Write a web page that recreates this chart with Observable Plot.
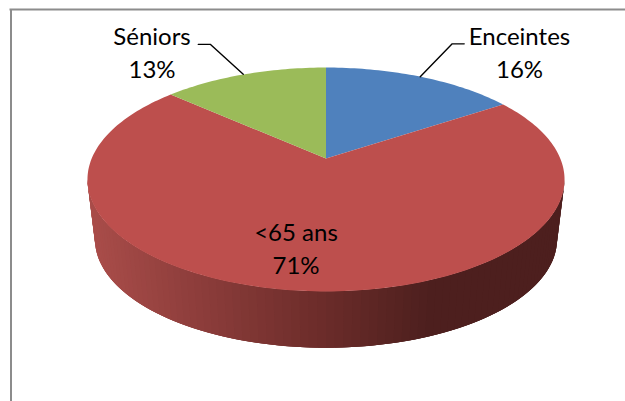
<!DOCTYPE html>
<html>
<head>
<meta charset="utf-8">
<style>html,body{margin:0;padding:0;background:#fff}svg{display:block}</style>
<script src="https://cdn.jsdelivr.net/npm/d3@7"></script>
<script src="https://cdn.jsdelivr.net/npm/@observablehq/plot@0.6"></script>
</head>
<body>
<script>
const categories = ["Enceintes", "<65 ans", "Séniors"];
// the printed labels are these, rounded
const shares = [15.7, 70.9, 13.4];
const sliceColors = ["#4f81bd", "#bd4f4d", "#9bbb59"];

// tilted-disc geometry (perspective view), units are chart px relative to the apex
const k = 0.1875, a = 234.3, b = 108, depth = 60.5, bottomScale = 0.9686;
function rim(t, s = 1, dy = 0) {
  const X = Math.sin(t), Y = Math.cos(t), d = 1 + k * Y;
  return {x: s * a * X / d, y: s * b * Y / d - dy};
}
const total = d3.sum(shares);
const turns = d3.cumsum(shares).map(v => v / total * 2 * Math.PI);
const starts = [0, ...turns.slice(0, -1)];

// top face
const slicePts = categories.flatMap((c, i) => {
  const n = Math.ceil(shares[i] * 3);
  const arc = d3.range(n + 1).map(j => rim(starts[i] + (turns[i] - starts[i]) * j / n));
  return [{x: 0, y: 0}, ...arc].map(p => ({...p, id: c, c: sliceColors[i]}));
});

// side wall: overlapping strips, painted in order so no seams show
const wallRamp = d3.scaleLinear()
  .domain([-232, -6, 105, 300])
  .range(["#a84c49", "#6c2c2a", "#4d1f1e", "#4d1f1e"]);
const t0 = Math.acos(-k), tEnd = 2 * Math.PI - t0, N = 90;
const wallAngle = i => t0 + (tEnd - t0) * Math.min(i, N) / N;
const wallPts = d3.range(N).flatMap(i => {
  const ta = wallAngle(i), tb = wallAngle(i + 3);
  const arcAngles = [ta, (ta + tb) / 2, tb];
  const q = [...arcAngles.map(t => rim(t)), ...arcAngles.reverse().map(t => rim(t, bottomScale, depth))];
  const col = wallRamp(rim(wallAngle(i + 0.5)).x);
  return q.map(p => ({...p, id: N - i, c: col}));
}).sort((p, q) => d3.ascending(q.id, p.id));

// labels and leaders
const mid = i => (starts[i] + turns[i]) / 2;
const leaderOffsets = [{fx: -1, ex: 32, ey: 33, sx: 12}, null, {fx: -1, ex: -33, ey: 30, sx: -12}];
const leaders = categories.flatMap((c, i) => {
  const o = leaderOffsets[i];
  if (!o) return [];
  const r = rim(mid(i));
  const p = {x: r.x + o.fx, y: r.y};
  const elbow = {x: p.x + o.ex, y: p.y + o.ey};
  return [p, elbow, {x: elbow.x + o.sx, y: elbow.y}].map(q => ({...q, id: c}));
});
const labelPts = [{x: 193.5, y: 107.5}, {x: -30, y: -88}, {x: -174, y: 107.5}];
const labels = categories.map((c, i) => ({...labelPts[i], text: `${c}\n${Math.round(shares[i])}%`}));

const chart = Plot.plot({
  width: 625, height: 401,
  marginTop: 0, marginRight: 0, marginBottom: 0, marginLeft: 0,
  x: {domain: [-325.5, 299.5], range: [0, 625], axis: null},
  y: {domain: [158, -243], range: [0, 401], axis: null},
  color: {type: "identity"},
  marks: [
    Plot.line(wallPts, {x: "x", y: "y", z: "id", fill: "c", stroke: null}),
    Plot.line(slicePts, {x: "x", y: "y", z: "id", fill: "c", stroke: null}),
    Plot.line(leaders, {x: "x", y: "y", z: "id", stroke: "#000", strokeWidth: 1.4}),
    Plot.text(labels, {x: "x", y: "y", text: "text", fontFamily: "Lato", fontSize: 24, lineHeight: 1.375, fill: "#000", lineAnchor: "middle"}),
    Plot.ruleX([-315], {y1: 149, y2: -243, stroke: "#8c8c8c", strokeWidth: 2}),
    Plot.ruleY([149], {x1: -316, x2: 299.5, stroke: "#8c8c8c", strokeWidth: 2})
  ]
});
document.body.appendChild(chart);
</script>
</body>
</html>
